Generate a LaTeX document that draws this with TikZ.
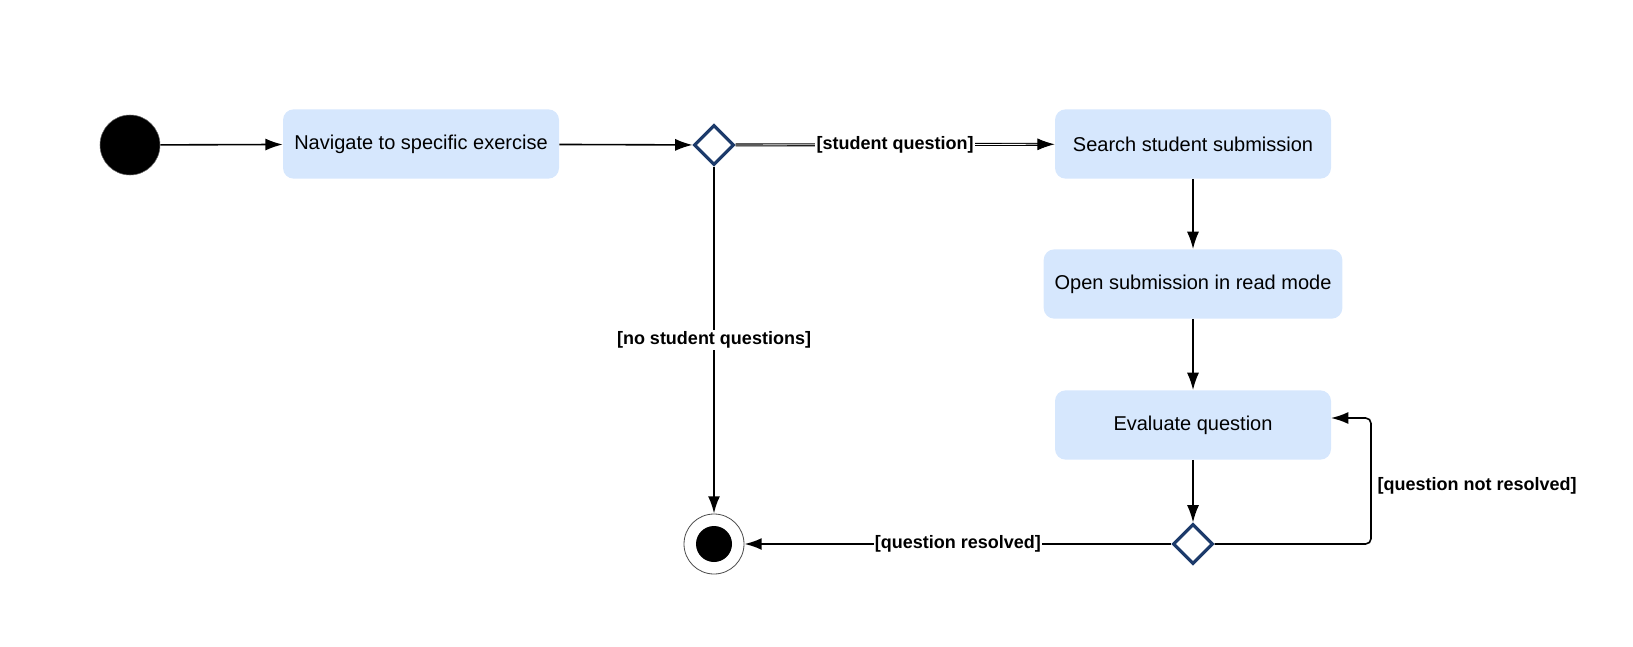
\documentclass[tikz,border=0pt]{standalone}
\usepackage{fontspec}
\setmainfont{Liberation Sans}
\usetikzlibrary{shapes.geometric,arrows.meta}
\definecolor{actfill}{HTML}{D6E7FD}
\definecolor{decline}{HTML}{1C3A6A}
\tikzset{
  action/.style={fill=actfill, rounded corners=8pt, minimum width=207pt, minimum height=52pt, font=\fontsize{15}{17}\selectfont},
  decision/.style={diamond, draw=decline, line width=2.3pt, fill=white, minimum width=30pt, minimum height=30pt, inner sep=0pt},
  flow/.style={-{Latex[length=13pt,width=9pt]}, line width=1.2pt},
  guard/.style={fill=white, inner sep=1pt, font=\bfseries\fontsize{13.5}{15}\selectfont}
}
\begin{document}
\begin{tikzpicture}[x=0.75pt, y=-0.75pt]
  \useasboundingbox (0,0) rectangle (1633,646);
  \node[circle, fill=black, draw=black!60, minimum size=45pt] (start) at (130,145) {};
  \node[action] (nav) at (421,144) {Navigate to specific exercise};
  \node[decision] (dec) at (714,145) {};
  \node[action] (search) at (1193,144) {Search student submission};
  \node[action, minimum width=224pt] (open) at (1193,284) {Open submission in read mode};
  \node[action] (eval) at (1193,425) {Evaluate question};
  \node[decision] (check) at (1193,544) {};
  \node[circle, draw=black!70, line width=0.6pt, fill=white, minimum size=45pt] (stop) at (714,544) {};
  \node[circle, fill=black, minimum size=27pt] (stopdot) at (714,544) {};
  \coordinate (back) at (1331,418);
  \draw[flow] (start) -- (nav);
  \draw[flow] (nav) -- (dec);
  \draw[flow, double, double distance=0.6pt, line width=0.8pt] (dec) -- node[guard] {[student question]} (search);
  \draw[flow, line width=1.6pt] (dec) -- node[guard] {[no student questions]} (stop);
  \draw[flow] (search) -- (open);
  \draw[flow] (open) -- (eval);
  \draw[flow] (eval) -- (check);
  \draw[flow, line width=1.6pt] (check) -- node[guard] {[question resolved]} (stop);
  \draw[flow, rounded corners=4pt] (check) -- (1371,544) -- (1371,418) -- (back);
  \node[guard, anchor=west] (loop) at (1376,486) {[question not resolved]};
\end{tikzpicture}
\end{document}
